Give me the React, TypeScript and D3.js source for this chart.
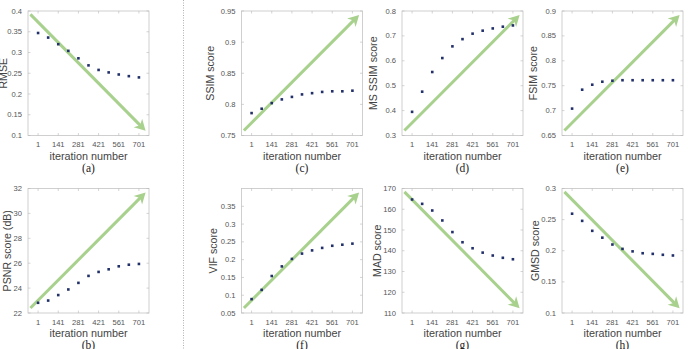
import React, { useEffect, useRef } from 'react';
import * as d3 from 'd3';

// iteration values at which each metric was sampled
const iterations = [1, 71, 141, 211, 281, 351, 421, 491, 561, 631, 701];
const xTickValues = [1, 141, 281, 421, 561, 701];

const rmseValues = [0.347, 0.336, 0.320, 0.304, 0.286, 0.269, 0.258, 0.252, 0.247, 0.243, 0.240];
const psnrValues = [22.82, 23.0, 23.44, 23.89, 24.42, 24.98, 25.3, 25.51, 25.75, 25.88, 25.94];
const ssimValues = [0.786, 0.793, 0.802, 0.808, 0.812, 0.816, 0.818, 0.820, 0.821, 0.821, 0.822];
const msssimValues = [0.395, 0.476, 0.555, 0.611, 0.658, 0.687, 0.709, 0.721, 0.730, 0.737, 0.742];
const fsimValues = [0.704, 0.742, 0.752, 0.758, 0.760, 0.761, 0.761, 0.761, 0.761, 0.761, 0.761];
const vifValues = [0.089, 0.115, 0.154, 0.181, 0.202, 0.217, 0.226, 0.233, 0.239, 0.242, 0.245];
const madValues = [164.7, 162.6, 159.4, 154.6, 149.0, 144.1, 141.2, 139.1, 137.7, 136.6, 135.9];
const gmsdValues = [0.2595, 0.248, 0.232, 0.221, 0.210, 0.203, 0.199, 0.196, 0.195, 0.1935, 0.1924];

const rmseTicks = [0.1, 0.15, 0.2, 0.25, 0.3, 0.35, 0.4];
const psnrTicks = [22, 24, 26, 28, 30, 32];
const ssimTicks = [0.75, 0.8, 0.85, 0.9, 0.95];
const msssimTicks = [0.3, 0.4, 0.5, 0.6, 0.7, 0.8];
const fsimTicks = [0.65, 0.7, 0.75, 0.8, 0.85, 0.9];
const vifTicks = [0.05, 0.1, 0.15, 0.2, 0.25, 0.3, 0.35];
const madTicks = [110, 120, 130, 140, 150, 160, 170];
const gmsdTicks = [0.1, 0.15, 0.2, 0.25, 0.3];

const panels = [
    { tag: '(a)', yLabel: 'RMSE', values: rmseValues, yDomain: [0.1, 0.4], yTicks: rmseTicks, trend: 'down', col: 0, row: 0, labelGap: 25 },
    { tag: '(c)', yLabel: 'SSIM score', values: ssimValues, yDomain: [0.75, 0.95], yTicks: ssimTicks, trend: 'up', col: 1, row: 0, labelGap: 31.5 },
    { tag: '(d)', yLabel: 'MS SSIM score', values: msssimValues, yDomain: [0.3, 0.8], yTicks: msssimTicks, trend: 'up', col: 2, row: 0, labelGap: 29 },
    { tag: '(e)', yLabel: 'FSIM score', values: fsimValues, yDomain: [0.65, 0.9], yTicks: fsimTicks, trend: 'up', col: 3, row: 0, labelGap: 29 },
    { tag: '(b)', yLabel: 'PSNR score (dB)', values: psnrValues, yDomain: [22, 32], yTicks: psnrTicks, trend: 'up', col: 0, row: 1, labelGap: 21 },
    { tag: '(f)', yLabel: 'VIF score', values: vifValues, yDomain: [0.05, 0.4], yTicks: vifTicks, trend: 'up', col: 1, row: 1, labelGap: 28.5 },
    { tag: '(g)', yLabel: 'MAD score', values: madValues, yDomain: [110, 170], yTicks: madTicks, trend: 'down', col: 2, row: 1, labelGap: 25 },
    { tag: '(h)', yLabel: 'GMSD score', values: gmsdValues, yDomain: [0.1, 0.3], yTicks: gmsdTicks, trend: 'down', col: 3, row: 1, labelGap: 27 },
];

const width = 688;
const height = 349;
const colLeft = [28, 241.5, 402, 562];
const rowTop = [11, 188.5];
const plotW = 121;
const plotH = 124.5;
const font = '"Liberation Sans", Arial, sans-serif';

export default function App() {
    const ref = useRef<SVGSVGElement>(null);

    useEffect(() => {
        const svg = d3.select(ref.current);
        svg.selectAll('*').remove();

        svg.append('rect').attr('width', width).attr('height', height).attr('fill', '#fff');

        // dotted separator between first column and the rest
        svg.append('line')
            .attr('x1', 183.5).attr('x2', 183.5)
            .attr('y1', 0).attr('y2', height)
            .attr('stroke', '#b0b0b0')
            .attr('stroke-width', 1)
            .attr('stroke-dasharray', '1,1.5');

        const x = d3.scaleLinear().domain([-69, 771]).range([0, plotW]);

        panels.forEach(p => {
            const y = d3.scaleLinear().domain(p.yDomain).range([plotH, 0]);
            const g = svg.append('g')
                .attr('transform', `translate(${colLeft[p.col]},${rowTop[p.row]})`);

            g.append('rect')
                .attr('width', plotW).attr('height', plotH)
                .attr('fill', 'none')
                .attr('stroke', '#c4c4c4')
                .attr('stroke-width', 0.8);

            // y ticks (left and right, inward)
            p.yTicks.forEach(t => {
                const yy = y(t);
                g.append('line').attr('x1', 0).attr('x2', 2.5).attr('y1', yy).attr('y2', yy)
                    .attr('stroke', '#b8b8b8').attr('stroke-width', 0.6);
                g.append('line').attr('x1', plotW).attr('x2', plotW - 2.5).attr('y1', yy).attr('y2', yy)
                    .attr('stroke', '#b8b8b8').attr('stroke-width', 0.6);
                g.append('text')
                    .attr('x', -6).attr('y', yy)
                    .attr('text-anchor', 'end')
                    .attr('dominant-baseline', 'central')
                    .attr('font-family', font).attr('font-size', 7.6)
                    .attr('fill', '#555')
                    .text(String(+t.toFixed(3)));
            });

            // x ticks (bottom and top)
            xTickValues.forEach(t => {
                const xx = x(t);
                g.append('line').attr('x1', xx).attr('x2', xx).attr('y1', plotH).attr('y2', plotH - 2.5)
                    .attr('stroke', '#b8b8b8').attr('stroke-width', 0.6);
                g.append('line').attr('x1', xx).attr('x2', xx).attr('y1', 0).attr('y2', 2.5)
                    .attr('stroke', '#b8b8b8').attr('stroke-width', 0.6);
                g.append('text')
                    .attr('x', xx).attr('y', plotH + 9)
                    .attr('text-anchor', 'middle')
                    .attr('dominant-baseline', 'central')
                    .attr('font-family', font).attr('font-size', 7.6)
                    .attr('fill', '#555')
                    .text(t);
            });

            g.append('text')
                .attr('x', plotW / 2).attr('y', plotH + 20.2)
                .attr('text-anchor', 'middle')
                .attr('dominant-baseline', 'central')
                .attr('font-family', font).attr('font-size', 10.8)
                .attr('fill', '#444')
                .text('iteration number');

            g.append('text')
                .attr('x', plotW / 2).attr('y', plotH + 32.2)
                .attr('text-anchor', 'middle')
                .attr('dominant-baseline', 'central')
                .attr('font-family', '"Liberation Serif", "Times New Roman", serif').attr('font-size', 11.5)
                .attr('fill', '#222')
                .text(p.tag);

            g.append('text')
                .attr('transform', `translate(${-p.labelGap},${plotH / 2}) rotate(-90)`)
                .attr('text-anchor', 'middle')
                .attr('dominant-baseline', 'central')
                .attr('font-family', font).attr('font-size', 10.6)
                .attr('fill', '#444')
                .text(p.yLabel);

            // trend arrow, placed as fractions of the plot area
            const up = p.trend === 'up';
            const x0 = plotW * 0.02, x1 = plotW * 0.972;
            const y0 = up ? plotH * 0.96 : plotH * 0.027;
            const y1 = up ? plotH * 0.032 : plotH * 0.962;
            const ang = Math.atan2(y1 - y0, x1 - x0);
            const headLen = 11, headHalf = 6;
            const arrow = g.append('g');
            arrow.append('line')
                .attr('x1', x0).attr('y1', y0)
                .attr('x2', x1 - Math.cos(ang) * headLen * 0.6)
                .attr('y2', y1 - Math.sin(ang) * headLen * 0.6)
                .attr('stroke', '#a9d18e')
                .attr('stroke-width', 3);
            const head = d3.path();
            head.moveTo(0, 0);
            head.lineTo(-headLen, -headHalf);
            head.lineTo(-headLen * 0.7, 0);
            head.lineTo(-headLen, headHalf);
            head.closePath();
            arrow.append('path')
                .attr('d', head.toString())
                .attr('transform', `translate(${x1},${y1}) rotate(${ang * 180 / Math.PI})`)
                .attr('fill', '#a9d18e');

            // data markers
            g.selectAll('rect.pt')
                .data(p.values)
                .join('rect')
                .attr('class', 'pt')
                .attr('x', (d, i) => x(iterations[i]) - 1.3)
                .attr('y', d => y(d) - 1.3)
                .attr('width', 2.6)
                .attr('height', 2.6)
                .attr('fill', '#22306a');
        });
    }, []);

    return (
        <svg
            ref={ref}
            width={width}
            height={height}
            style={{ position: 'absolute', left: 0, top: 0, display: 'block' }}
        />
    );
}
